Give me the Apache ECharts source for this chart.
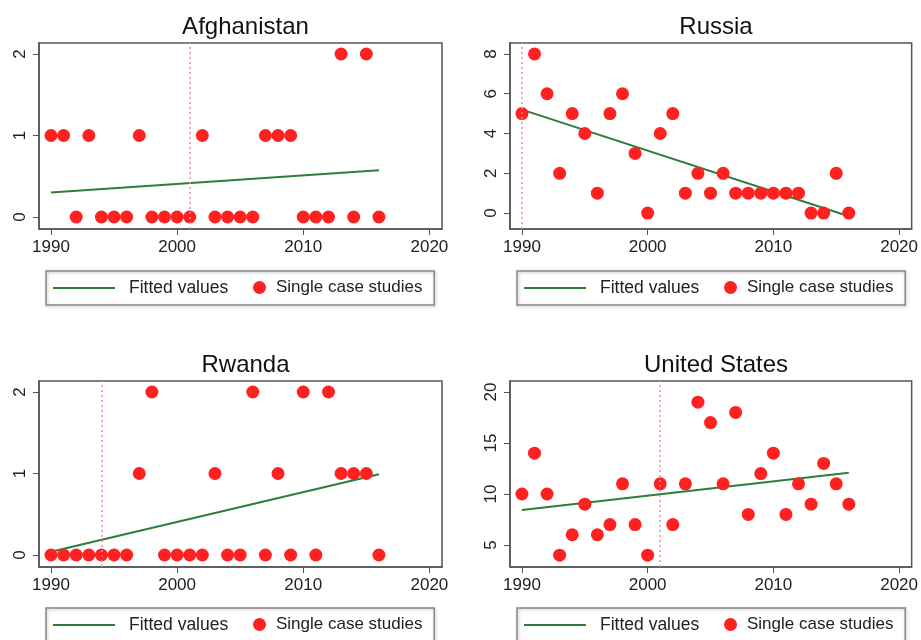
<!DOCTYPE html>
<html><head><meta charset="utf-8">
<script src="https://cdn.jsdelivr.net/npm/echarts@6/dist/echarts.min.js"></script>
<style>html,body{margin:0;padding:0;background:#fff}#c{width:921px;height:640px}</style>
</head><body><div id="c"></div>
<script>
const years = [1990,1991,1992,1993,1994,1995,1996,1997,1998,1999,2000,2001,2002,2003,2004,2005,2006,2007,2008,2009,2010,2011,2012,2013,2014,2015,2016];
const countries = ['Afghanistan','Russia','Rwanda','United States'];
const afghanistan = [1,1,0,1,0,0,0,1,0,0,0,0,1,0,0,0,0,1,1,1,0,0,0,2,0,2,0];
const russia      = [5,8,6,2,5,4,1,5,6,3,0,4,5,1,2,1,2,1,1,1,1,1,1,0,0,2,0];
const rwanda      = [0,0,0,0,0,0,0,1,2,0,0,0,0,1,0,0,2,0,1,0,2,0,2,1,1,1,0];
const unitedStates= [10,14,10,4,6,9,6,7,11,7,4,11,7,11,19,17,11,18,8,12,14,8,11,9,13,11,9];
const fitStart = [0.30, 5.2, 0.04, 8.43];
const fitEnd   = [0.573, -0.16, 0.99, 12.09];
const eventYear = [2001, 1990, 1994, 2001];
const xTicks = [1990, 2000, 2010, 2020];
const yTicks = [[0,1,2],[0,2,4,6,8],[0,1,2],[5,10,15,20]];
const yRange = [[-0.147,2.135],[-0.8,8.55],[-0.147,2.135],[2.84,21.08]];
const values = [afghanistan, russia, rwanda, unitedStates];

const FONT = 'Liberation Sans';
const grids = [
  {left:39, top:43, width:403, height:186},
  {left:510, top:43, width:402, height:186},
  {left:39, top:381, width:403, height:186},
  {left:510, top:381, width:402, height:186}
];
const legendTops = [271, 271, 608, 608];
const legendLefts = [46, 517, 46, 517];

const option = {
  animation:false,
  backgroundColor:'#fff',
  title: countries.map((c,i)=>({
    text:c, left: grids[i].left + grids[i].width/2, top: grids[i].top - 33, textAlign:'center',
    textStyle:{fontFamily:FONT, fontSize:24, fontWeight:'normal', color:'#111'}
  })),
  grid: grids.map(g=>Object.assign({show:true, borderColor:'#555', borderWidth:1.5, backgroundColor:'#fff'}, g)),
  xAxis: grids.map((g,i)=>({
    type:'value', gridIndex:i, min:1989.05, max:2021.0,
    splitLine:{show:false},
    axisLine:{show:true, onZero:false, lineStyle:{color:'#555', width:1.5}},
    axisTick:{show:true, inside:false, length:6, lineStyle:{color:'#555'}, customValues:xTicks},
    axisLabel:{fontFamily:FONT, fontSize:17, color:'#222', margin:10, customValues:xTicks, formatter:v=>String(v)}
  })),
  yAxis: grids.map((g,i)=>({
    type:'value', gridIndex:i, min:yRange[i][0], max:yRange[i][1],
    splitLine:{show:false},
    axisLine:{show:true, onZero:false, lineStyle:{color:'#555', width:1.5}},
    axisTick:{show:true, inside:false, length:6, lineStyle:{color:'#555'}, customValues:yTicks[i]},
    axisLabel:{fontFamily:FONT, fontSize:17, color:'#222', margin:10, rotate:90, customValues:yTicks[i], formatter:v=>String(v)}
  })),
  legend: [],
  series: []
};

countries.forEach((c,i)=>{
  option.legend.push({
    data:[{name:'Fitted values', icon:'rect'}],
    left:legendLefts[i], top:legendTops[i], orient:'horizontal',
    itemWidth:62, itemHeight:2, padding:[8,206,8,7],
    borderColor:'#888', borderWidth:1.5, backgroundColor:'transparent',
    shadowColor:'rgba(0,0,0,0.25)', shadowBlur:3, shadowOffsetX:1, shadowOffsetY:1,
    selectedMode:false,
    textStyle:{fontFamily:FONT, fontSize:17.5, color:'#222', padding:[0,0,0,9]}
  });
  option.legend.push({
    data:[{name:'Single case studies', icon:'circle'}],
    left:legendLefts[i] + 207, top:legendTops[i], orient:'horizontal',
    itemWidth:13, itemHeight:13, padding:[8,0,8,0],
    selectedMode:false,
    textStyle:{fontFamily:FONT, fontSize:17, color:'#222', padding:[0,0,0,5]}
  });
  option.series.push({
    name:'Fitted values', type:'line', xAxisIndex:i, yAxisIndex:i,
    data:[[years[0], fitStart[i]],[years[years.length-1], fitEnd[i]]],
    symbol:'none', showSymbol:false, z:3,
    lineStyle:{color:'#2e7d3c', width:2}, itemStyle:{color:'#2e7d3c'}
  });
  option.series.push({
    name:'Single case studies', type:'scatter', xAxisIndex:i, yAxisIndex:i,
    data: years.map((y,k)=>[y, values[i][k]]),
    symbol:'circle', symbolSize:13, z:4,
    itemStyle:{color:'#ff2020', opacity:1},
    markLine:{
      silent:true, symbol:'none', label:{show:false},
      lineStyle:{color:'#f08aa8', type:[2,3], width:1.5},
      data:[{xAxis:eventYear[i]}]
    }
  });
});

const chart = echarts.init(document.getElementById('c'), null, {renderer:'canvas'});
chart.setOption(option);
</script></body></html>
